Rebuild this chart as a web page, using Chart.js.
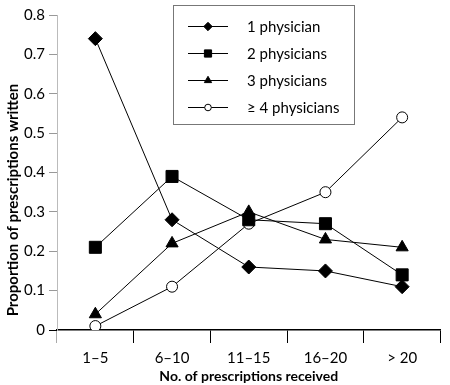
<!DOCTYPE html>
<html>
<head>
<meta charset="utf-8">
<script src="https://cdn.jsdelivr.net/npm/chart.js@4/dist/chart.umd.min.js"></script>
<style>
  html, body { margin: 0; padding: 0; background: #fff; }
  #wrap { width: 450px; height: 385px; position: relative; }
</style>
</head>
<body>
<div id="wrap"><canvas id="lineChart"></canvas></div>
<script>
const categories = ['1–5', '6–10', '11–15', '16–20', '> 20'];
const seriesNames = ['1 physician', '2 physicians', '3 physicians', '≥ 4 physicians'];
const onePhysician = [0.74, 0.28, 0.16, 0.15, 0.11];
const twoPhysicians = [0.21, 0.39, 0.28, 0.27, 0.14];
const threePhysicians = [0.04, 0.22, 0.30, 0.23, 0.21];
const fourPlusPhysicians = [0.01, 0.11, 0.27, 0.35, 0.54];
const yTickLabels = ['0', '0.1', '0.2', '0.3', '0.4', '0.5', '0.6', '0.7', '0.8'];

const fontFamily = 'Lato, "Open Sans", sans-serif';

// Legend box drawn inside the plot, like the original figure
const insideLegend = {
  id: 'insideLegend',
  afterDraw(chart) {
    const ctx = chart.ctx;
    ctx.save();
    ctx.strokeStyle = '#777';
    ctx.lineWidth = 1;
    ctx.fillStyle = '#fff';
    ctx.fillRect(173.5, 5.5, 181, 119);
    ctx.strokeRect(173.5, 5.5, 181, 119);
    chart.data.datasets.forEach((ds, i) => {
      const y = 26 + i * 27;
      ctx.strokeStyle = '#000';
      ctx.beginPath();
      ctx.moveTo(188, y + 0.5);
      ctx.lineTo(228, y + 0.5);
      ctx.stroke();
      ctx.fillStyle = ds.pointBackgroundColor;
      ctx.strokeStyle = '#000';
      Chart.helpers.drawPoint(ctx, {
        pointStyle: ds.pointStyle,
        radius: ds.pointRadius * 0.6,
        borderWidth: 1
      }, 208, y + 0.5);
      ctx.fillStyle = '#000';
      ctx.font = '15px ' + fontFamily;
      ctx.textBaseline = 'middle';
      ctx.fillText(ds.label, 247, y + 1);
    });
    ctx.restore();
  }
};

// y axis title sits a bit lower than the scale centre in the original
const yTitle = {
  id: 'yTitle',
  afterDraw(chart) {
    const ctx = chart.ctx;
    ctx.save();
    ctx.translate(13, 200);
    ctx.rotate(-Math.PI / 2);
    ctx.font = 'bold 15px ' + fontFamily;
    ctx.fillStyle = '#000';
    ctx.textAlign = 'center';
    ctx.textBaseline = 'middle';
    ctx.fillText('Proportion of prescriptions written', 0, 0);
    ctx.restore();
  }
};

const makeSet = (label, data, style, radius, fill) => ({
  label: label,
  data: data,
  borderColor: '#000',
  borderWidth: 1,
  pointStyle: style,
  pointRadius: radius,
  pointHoverRadius: radius,
  pointBackgroundColor: fill,
  pointBorderColor: '#000',
  pointBorderWidth: 1,
  tension: 0,
  fill: false
});

new Chart(document.getElementById('lineChart').getContext('2d'), {
  type: 'line',
  data: {
    labels: categories,
    datasets: [
      makeSet(seriesNames[0], onePhysician, 'rectRot', 7, '#000'),
      makeSet(seriesNames[1], twoPhysicians, 'rect', 8.5, '#000'),
      makeSet(seriesNames[2], threePhysicians, 'triangle', 7, '#000'),
      makeSet(seriesNames[3], fourPlusPhysicians, 'circle', 5.5, '#fff')
    ]
  },
  options: {
    responsive: true,
    maintainAspectRatio: false,
    animation: false,
    layout: { padding: { top: 15, right: 0, left: 0, bottom: 0 } },
    plugins: {
      legend: { display: false },
      tooltip: { enabled: false }
    },
    scales: {
      x: {
        offset: true,
        afterFit(scale) { scale.height = 55; },
        border: { color: '#000', width: 1.5 },
        grid: {
          offset: true,
          drawOnChartArea: false,
          tickLength: 13,
          color: (c) => c.index === 0 ? '#aaa' : '#000'
        },
        ticks: {
          color: '#000',
          padding: 6,
          font: { family: fontFamily, size: 15 }
        },
        title: {
          display: true,
          text: 'No. of prescriptions received',
          color: '#000',
          padding: { top: 0, bottom: 0 },
          font: { family: fontFamily, size: 14, weight: 'bold' }
        }
      },
      y: {
        min: 0,
        max: 0.8,
        afterFit(scale) { scale.width = 57; },
        border: { color: '#bbb', width: 1 },
        grid: {
          drawOnChartArea: false,
          tickLength: 8,
          color: (c) => c.index === 0 ? '#000' : '#999'
        },
        ticks: {
          stepSize: 0.1,
          color: '#000',
          padding: 4,
          font: { family: fontFamily, size: 15 },
          callback: (v, i) => yTickLabels[i]
        }
      }
    }
  },
  plugins: [insideLegend, yTitle]
});
</script>
</body>
</html>
